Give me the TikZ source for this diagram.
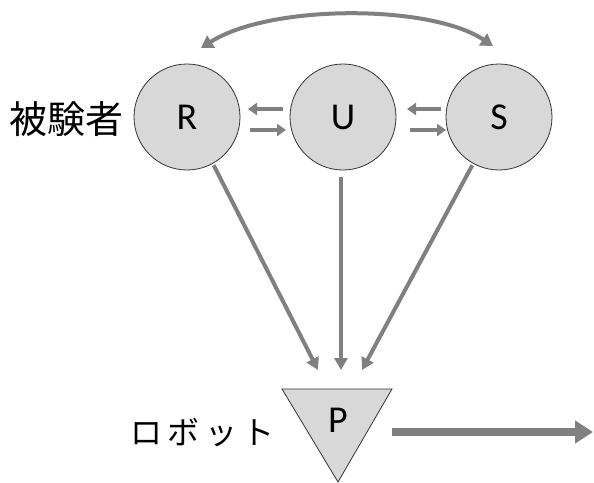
\documentclass[tikz,border=0pt]{standalone}
\usepackage{fontspec}
\setmainfont{Carlito}
\newfontfamily\cjk{Noto Sans CJK JP}
\usetikzlibrary{arrows.meta}
\definecolor{arr}{RGB}{128,128,128}
\definecolor{cfill}{RGB}{216,216,216}
\begin{document}
\begin{tikzpicture}[x=1pt,y=-1pt,
  circ/.style={circle,draw=black!80,line width=0.8pt,fill=cfill,minimum size=106pt,inner sep=0pt,font=\fontsize{38}{38}\selectfont},
  conn/.style={draw=arr,line width=4pt,-{Triangle[length=12pt,width=13pt]}},
  small/.style={draw=arr,line width=4.5pt,-{Triangle[length=9pt,width=12pt]}},
  big/.style={draw=arr,line width=8pt,-{Triangle[length=18pt,width=22pt]}}]
\useasboundingbox (0,0) rectangle (594,482);
\node[circ] (R) at (187,117) {R};
\node[circ] (U) at (343,117) {U};
\node[circ] (S) at (499,117) {S};
\node[font=\cjk\fontsize{38}{38}\selectfont,anchor=east] (subj) at (127,119) {被験者};
\path[fill=cfill,draw=black!80,line width=0.8pt] (282,389) -- (392,389) -- (338,482) -- cycle;
\node[inner sep=0pt,font=\fontsize{38}{38}\selectfont] (P) at (338,420) {P};
\node[font=\cjk\fontsize{32}{32}\selectfont,anchor=east] (robot) at (278,433) {ロ\,ボ\,ッ\,ト};
\coordinate (pR) at (318,370);
\coordinate (pU) at (341,370);
\coordinate (pS) at (362,370);
\draw[conn] (R.-60) ++(0,2) -- (pR);
\draw[conn] (U.south) ++(-2,7) -- (pU);
\draw[conn] (S.-120) ++(0,2) -- (pS);
\coordinate (a1) at (283,109); \coordinate (a2) at (248,109);
\coordinate (a3) at (250,130); \coordinate (a4) at (286,130);
\coordinate (b1) at (441,109); \coordinate (b2) at (407,109);
\coordinate (b3) at (410,130); \coordinate (b4) at (446,130);
\draw[small] (a1) -- (a2);
\draw[small] (a3) -- (a4);
\draw[small] (b1) -- (b2);
\draw[small] (b3) -- (b4);
\coordinate (t1) at (201,48);
\coordinate (t2) at (493,46);
\draw[draw=arr,line width=4pt,{Triangle[length=12pt,width=14pt]}-{Triangle[length=12pt,width=14pt]}] (t1) .. controls (270,4) and (430,4) .. (t2);
\coordinate (e) at (593,432);
\draw[big] (392,432) -- (e);
\end{tikzpicture}
\end{document}
